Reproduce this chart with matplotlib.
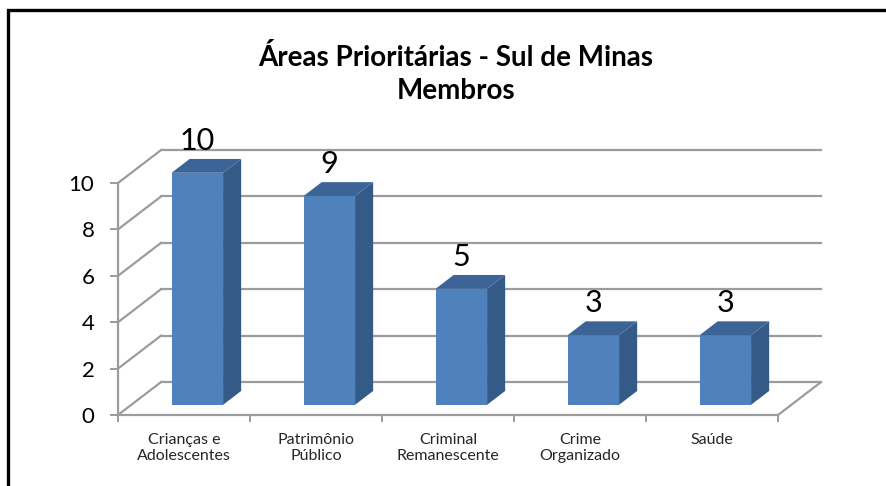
import numpy as np
import matplotlib.pyplot as plt
from matplotlib.patches import Polygon, Rectangle

plt.rcParams['font.family'] = ['Lato', 'DejaVu Sans']

# dados do gráfico
categorias = ['Crianças e\nAdolescentes', 'Patrimônio\nPúblico', 'Criminal\nRemanescente',
              'Crime\nOrganizado', 'Saúde']
membros = [10, 9, 5, 3, 3]
y_ticks = [0, 2, 4, 6, 8, 10]
titulo = 'Áreas Prioritárias - Sul de Minas\nMembros'

# aparência "3D" do Excel
DX, DY = 0.326, 1.42     # deslocamento da parede do fundo (unidades de dados)
f1, f2 = 0.31, 0.73      # frente / fundo das barras (fração da profundidade)
largura = 0.39
cor_frente = '#4f81bd'
cor_lado = '#345a88'
cor_topo = '#3c6496'
cor_grade = '#9c9c9c'

W, H = 886, 486
fig = plt.figure(figsize=(W / 100, H / 100), dpi=100)
x_px, y_px = 132, 23.2
ax = fig.add_axes([118 / W, 71 / H, 5.5 * x_px / W, 11.6 * y_px / H])
ax.set_xlim(0, 5.5)
ax.set_ylim(0, 11.6)

# moldura preta
fig.patches.append(Rectangle((7.5 / W, -0.1), 1.2, 1 - 9.5 / H + 0.1, transform=fig.transFigure,
                             fill=False, edgecolor='black', linewidth=2.4))

n = len(membros)
# linhas de grade na parede do fundo e na parede esquerda
for v in y_ticks:
    ax.plot([DX, n + DX], [v + DY, v + DY], color=cor_grade, lw=1.6, zorder=1, clip_on=False)
    ax.plot([0, DX], [v, v + DY], color=cor_grade, lw=1.6, zorder=1, clip_on=False)
# borda direita do piso
ax.plot([n, n + DX], [0, DY], color=cor_grade, lw=1.6, zorder=1, clip_on=False)

# barras
x = np.arange(n) + 0.5 + f1 * DX
base = f1 * DY
d = f2 - f1
ax.bar(x, membros, width=largura, bottom=base, color=cor_frente, zorder=3)
for xi, v in zip(x, membros):
    xl, xr = xi - largura / 2, xi + largura / 2
    topo = base + v
    ax.add_patch(Polygon([(xr, base), (xr + d * DX, base + d * DY), (xr + d * DX, topo + d * DY), (xr, topo)],
                         closed=True, facecolor=cor_lado, edgecolor='none', zorder=3))
    ax.add_patch(Polygon([(xl, topo), (xr, topo), (xr + d * DX, topo + d * DY), (xl + d * DX, topo + d * DY)],
                         closed=True, facecolor=cor_topo, edgecolor='none', zorder=3))
    ax.annotate(str(v), (xi, topo + d * DY), xytext=(0, 6.5), textcoords='offset points',
                ha='center', va='baseline', fontsize=22, color='black')

# eixos
for s in ['top', 'right']:
    ax.spines[s].set_visible(False)
ax.spines['left'].set_bounds(0, 10)
ax.spines['bottom'].set_bounds(0, n)
for s in ['left', 'bottom']:
    ax.spines[s].set_color(cor_grade)
    ax.spines[s].set_linewidth(1.6)
ax.set_yticks(y_ticks)
ax.tick_params(axis='y', length=6, width=1.4, color=cor_grade, labelsize=16, pad=11)
ax.set_xticks(np.arange(n + 1))
ax.set_xticklabels([])
ax.set_xticks(np.arange(n) + 0.5, minor=True)
ax.set_xticklabels(categorias, minor=True, fontsize=11.5, color='#262626', linespacing=1.2)
ax.tick_params(axis='x', which='major', length=5, width=1.4, color=cor_grade)
ax.tick_params(axis='x', which='minor', length=0, pad=13)
ax.set_facecolor('none')

fig.text(456 / W, 1 - 74 / H, titulo, ha='center', va='center', fontsize=20, fontweight='bold',
         linespacing=1.35)

fig.savefig('out.png', dpi=100)
